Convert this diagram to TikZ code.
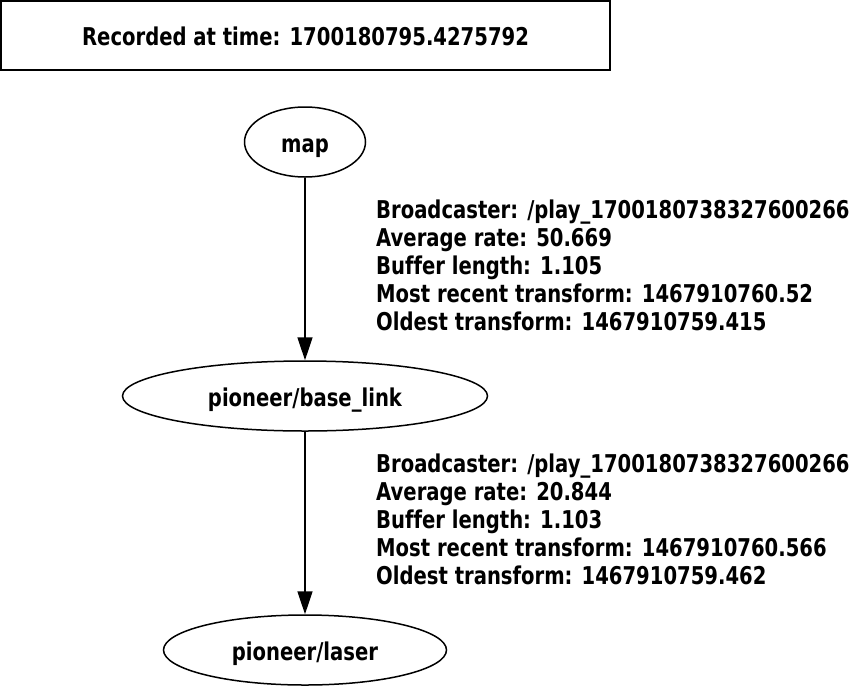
\documentclass[tikz,border=0pt]{standalone}
\usepackage{fontspec}
\setmainfont{DejaVu Sans}[FakeStretch=0.80,Ligatures=NoCommon]
\usetikzlibrary{arrows.meta,shapes.geometric}
\begin{document}
\begin{tikzpicture}[x=1pt,y=-1pt,
  every node/.style={font=\fontsize{24.5}{28}\selectfont\bfseries},
  frame/.style={ellipse,draw,line width=1.5pt,inner sep=0pt,minimum height=70pt,text height=20pt,text depth=0pt},
  titlebox/.style={rectangle,draw,line width=1.5pt,inner sep=0pt,minimum width=609pt,minimum height=69pt,text height=20pt,text depth=0pt},
  tfedge/.style={line width=1.5pt,-{Triangle[length=23pt,width=15pt]}},
  info/.style={anchor=base west,align=left,inner sep=0pt}]
\useasboundingbox (0,0) rectangle (854,686);
\node[titlebox] (title) at (305.5,35.5) {Recorded at time: 1700180795.4275792};
\node[frame,minimum width=121pt] (map) at (305,142) {map};
\node[frame,minimum width=365pt] (base) at (305,396) {pioneer/base\_link};
\node[frame,minimum width=283pt] (laser) at (305,650) {pioneer/laser};
\draw[tfedge] (map) -- (base);
\draw[tfedge] (base) -- (laser);
\node[info] (l1) at (376,330) {Broadcaster: /play\_1700180738327600266\\Average rate: 50.669\\Buffer length: 1.105\\Most recent transform: 1467910760.52\\Oldest transform: 1467910759.415};
\node[info] (l2) at (376,584) {Broadcaster: /play\_1700180738327600266\\Average rate: 20.844\\Buffer length: 1.103\\Most recent transform: 1467910760.566\\Oldest transform: 1467910759.462};
\end{tikzpicture}
\end{document}
